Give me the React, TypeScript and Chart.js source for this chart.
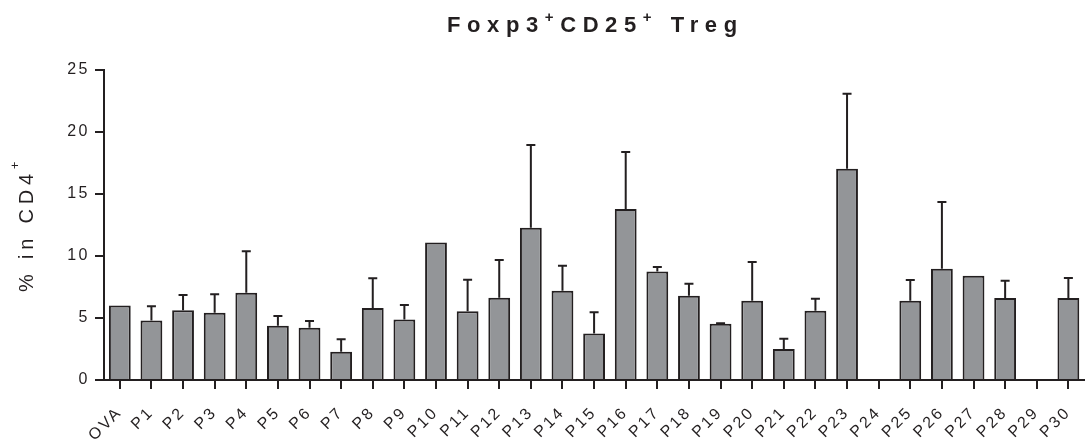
import React, { useEffect, useRef } from "react";
import { Chart, registerables } from "chart.js";

Chart.register(...registerables);

const categories = [
  "OVA", "P1", "P2", "P3", "P4", "P5", "P6", "P7", "P8", "P9", "P10",
  "P11", "P12", "P13", "P14", "P15", "P16", "P17", "P18", "P19", "P20",
  "P21", "P22", "P23", "P24", "P25", "P26", "P27", "P28", "P29", "P30",
];
const means = [
  6.0, 4.8, 5.62, 5.43, 7.04, 4.38, 4.22, 2.28, 5.81, 4.87, 11.08,
  5.54, 6.64, 12.28, 7.2, 3.74, 13.79, 8.76, 6.8, 4.54, 6.4,
  2.5, 5.59, 17.04, 0, 6.4, 8.98, 8.41, 6.61, 0, 6.61,
];
const sds: (number | null)[] = [
  null, 1.15, 1.23, 1.48, 3.34, 0.78, 0.53, 1.0, 2.39, 1.18, null,
  2.55, 3.04, 6.67, 2.02, 1.72, 4.6, 0.35, 0.97, 0.04, 3.12,
  0.83, 0.97, 6.05, null, 1.66, 5.37, null, 1.4, null, 1.62,
];
const yTicks = [0, 5, 10, 15, 20, 25];
const titleParts = [
  { text: "Foxp3", sup: false },
  { text: "+", sup: true },
  { text: "CD25", sup: false },
  { text: "+", sup: true },
  { text: " Treg", sup: false },
];
const yLabelParts = [
  { text: "% in CD4", sup: false },
  { text: "+", sup: true },
];

const INK = "#231f20";
const BAR = "#939598";
const FAMILY = '"Liberation Sans", Arial, sans-serif';

type Seg = { text: string; font: string; spacing: number; dy: number };

function segWidth(ctx: CanvasRenderingContext2D, s: Seg) {
  ctx.font = s.font;
  (ctx as any).letterSpacing = "0px";
  return ctx.measureText(s.text).width + s.spacing * s.text.length;
}

function drawSegs(ctx: CanvasRenderingContext2D, segs: Seg[], x: number, y: number) {
  let cx = x;
  for (const s of segs) {
    const w = segWidth(ctx, s);
    ctx.font = s.font;
    (ctx as any).letterSpacing = s.spacing + "px";
    ctx.fillText(s.text, cx, y + s.dy);
    cx += w;
  }
}

const textPlugin = {
  id: "customText",
  beforeDraw(chart: any) {
    (chart.ctx as any).letterSpacing = "2.5px";
  },
  afterDraw(chart: any) {
    const ctx: CanvasRenderingContext2D = chart.ctx;
    ctx.save();
    ctx.fillStyle = INK;
    ctx.textAlign = "left";
    ctx.textBaseline = "alphabetic";
    const tSegs: Seg[] = titleParts.map((p) => ({
      text: p.text,
      font: p.sup ? `bold 15px ${FAMILY}` : `bold 22px ${FAMILY}`,
      spacing: 6.6,
      dy: p.sup ? -10 : 0,
    }));
    drawSegs(ctx, tSegs, 447, 32);

    const ySegs: Seg[] = yLabelParts.map((p) => ({
      text: p.text,
      font: p.sup ? `13px ${FAMILY}` : `20px ${FAMILY}`,
      spacing: p.sup ? 2 : 4.8,
      dy: p.sup ? -14 : 0,
    }));
    ctx.translate(33, 292);
    ctx.rotate(-Math.PI / 2);
    drawSegs(ctx, ySegs, 0, 0);
    ctx.restore();
    (ctx as any).letterSpacing = "0px";
  },
};

const errorBarPlugin = {
  id: "errorBars",
  afterDatasetsDraw(chart: any) {
    const ctx: CanvasRenderingContext2D = chart.ctx;
    const meta = chart.getDatasetMeta(0);
    const y = chart.scales.y;
    ctx.save();
    ctx.strokeStyle = INK;
    ctx.lineWidth = 2;
    meta.data.forEach((bar: any, i: number) => {
      const sd = sds[i];
      if (sd == null) return;
      const base = y.getPixelForValue(means[i]);
      const top = y.getPixelForValue(means[i] + sd);
      ctx.beginPath();
      ctx.moveTo(bar.x, base);
      ctx.lineTo(bar.x, top);
      ctx.moveTo(bar.x - 4.5, top);
      ctx.lineTo(bar.x + 4.5, top);
      ctx.stroke();
    });
    ctx.restore();
  },
};

export default function App() {
  const ref = useRef<HTMLCanvasElement | null>(null);
  useEffect(() => {
    if (!ref.current) return;
    const chart = new Chart(ref.current, {
      type: "bar",
      data: {
        labels: categories,
        datasets: [
          {
            data: means,
            backgroundColor: BAR,
            borderColor: INK,
            borderWidth: 2,
            barPercentage: 0.69,
            categoryPercentage: 1,
          },
        ],
      },
      options: {
        responsive: false,
        animation: false,
        devicePixelRatio: 1,
        layout: { padding: { top: 70, right: 3, left: 0, bottom: 0 } },
        plugins: { legend: { display: false }, tooltip: { enabled: false }, title: { display: false } },
        scales: {
          x: {
            grid: { offset: false, drawOnChartArea: false, drawTicks: true, tickLength: 9, color: INK, lineWidth: 2 },
            border: { display: true, color: INK, width: 2 },
            ticks: {
              autoSkip: false,
              minRotation: 45,
              maxRotation: 45,
              padding: 14,
              color: INK,
              font: { family: FAMILY, size: 16 },
            },
            afterFit: (s: any) => { s.height = 61; },
          },
          y: {
            min: 0,
            max: 25,
            afterBuildTicks: (s: any) => { s.ticks = yTicks.map((v) => ({ value: v })); },
            grid: { drawOnChartArea: false, drawTicks: true, tickLength: 9, color: INK, lineWidth: 2 },
            border: { display: true, color: INK, width: 2 },
            ticks: { padding: 5, color: INK, font: { family: FAMILY, size: 16 } },
            afterFit: (s: any) => { s.width = 104; },
          },
        },
      },
      plugins: [textPlugin, errorBarPlugin],
    });
    return () => chart.destroy();
  }, []);
  return (
    <div style={{ position: "fixed", left: 0, top: 0, width: 1089, height: 441, overflow: "hidden", background: "#fff" }}>
      <canvas ref={ref} width={1096} height={441} style={{ display: "block" }} />
    </div>
  );
}
